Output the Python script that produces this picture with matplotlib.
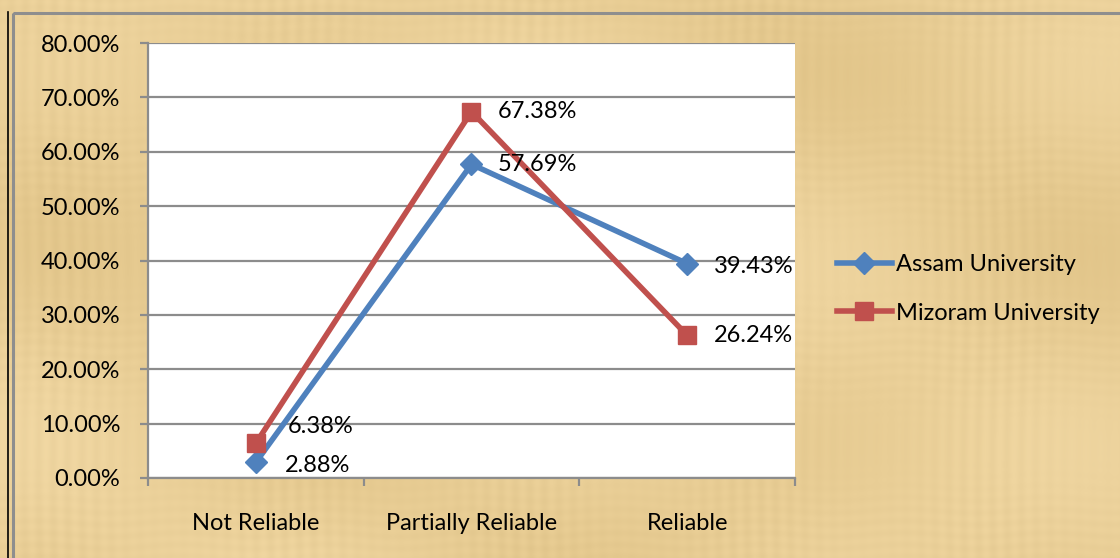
import numpy as np
import matplotlib
matplotlib.use("Agg")
import matplotlib.pyplot as plt
from matplotlib.ticker import FuncFormatter, MultipleLocator
from matplotlib.patches import Rectangle
from matplotlib.lines import Line2D

# Data
categories = ["Not Reliable", "Partially Reliable", "Reliable"]
assam = [0.0288, 0.5769, 0.3943]
mizoram = [0.0638, 0.6738, 0.2624]
series_names = ["Assam University", "Mizoram University"]

BLUE = "#4F81BD"
RED = "#C0504D"
GRID = "#8C8C8C"
FONT = "Lato"
FS = 17

W, H = 1120, 558
fig = plt.figure(figsize=(W / 100, H / 100), dpi=100)

# Papyrus-like backdrop built from layered sine streaks (mostly vertical fibres)
yy, xx = np.mgrid[0:H, 0:W]
fibres = (0.45 * np.sin(xx / 2.3 + 0.7 * np.sin(yy / 61.0)) * (0.6 + 0.4 * np.sin(xx / 37.0))
          + 0.25 * np.sin(yy / 1.9 + np.sin(xx / 23.0)) * (0.5 + 0.5 * np.sin(yy / 29.0 + 2.0)))
patches = 0.6 * np.sin(xx / 83.0 + 1.1) * np.sin(yy / 57.0 + 0.3) + 0.4 * np.sin(xx / 151.0 - yy / 97.0)
base = np.array([233, 206, 150]) / 255.0
tex = (base[None, None, :]
       + 0.022 * fibres[..., None]
       + 0.03 * patches[..., None] * np.array([0.8, 1.0, 1.4]))
tex = np.clip(tex, 0, 1)
bg = fig.add_axes([0, 0, 1, 1], zorder=-10)
bg.imshow(tex, extent=[0, W, H, 0], aspect="auto", interpolation="bilinear")
bg.set_xlim(0, W)
bg.set_ylim(H, 0)
bg.axis("off")
# chart border
bg.add_patch(Rectangle((13, 13), W + 10, H, fill=False, ec="#8E8E8E", lw=2.2))
bg.plot([8, 8], [12, H], color="black", lw=1.2)

# Plot area
left, right, top, bottom = 148, 795, 43, 478
ax = fig.add_axes([left / W, 1 - bottom / H, (right - left) / W, (bottom - top) / H])
ax.set_facecolor("white")
x = np.arange(len(categories))
ax.set_xlim(-0.5, len(categories) - 0.5)
ax.set_ylim(0, 0.8)

ax.yaxis.set_major_locator(MultipleLocator(0.1))
ax.yaxis.set_major_formatter(FuncFormatter(lambda v, p: f"{v * 100:.2f}%"))
ax.grid(axis="y", color=GRID, lw=1.6)
ax.set_axisbelow(True)
for s in ["top", "right"]:
    ax.spines[s].set_visible(False)
for s in ["left", "bottom"]:
    ax.spines[s].set_color(GRID)
    ax.spines[s].set_linewidth(1.6)

ax.set_xticks(x)
ax.set_xticklabels(categories, fontsize=FS, family=FONT)
ax.set_xticks(np.arange(-0.5, len(categories)), minor=True)
ax.tick_params(axis="x", which="major", length=0, pad=25)
ax.tick_params(axis="x", which="minor", length=6, width=1.6, color=GRID, direction="out")
ax.tick_params(axis="y", length=6, width=1.6, color=GRID, pad=14, labelsize=FS)
for lbl in ax.get_yticklabels():
    lbl.set_family(FONT)

ax.plot(x, assam, color=BLUE, lw=4, marker="D", ms=11, mec=BLUE, mfc=BLUE, zorder=3,
        label=series_names[0])
ax.plot(x, mizoram, color=RED, lw=4, marker="s", ms=13, mec=RED, mfc=RED, zorder=4,
        label=series_names[1])

# Value labels to the right of each point
label_offsets_mz = [(23, 12), (19, 0), (19, 0)]
label_offsets_as = [(21, -2), (19, 0), (19, -2)]
for xi, v, off in zip(x, assam, label_offsets_as):
    ax.annotate(f"{v * 100:.2f}%", (xi, v), xytext=off, textcoords="offset points",
                ha="left", va="center", fontsize=FS, family=FONT, zorder=5)
for xi, v, off in zip(x, mizoram, label_offsets_mz):
    ax.annotate(f"{v * 100:.2f}%", (xi, v), xytext=off, textcoords="offset points",
                ha="left", va="center", fontsize=FS, family=FONT, zorder=5)

handles = [
    Line2D([], [], color=BLUE, lw=4, marker="D", ms=11, mfc=BLUE, mec=BLUE),
    Line2D([], [], color=RED, lw=4, marker="s", ms=13, mfc=RED, mec=RED),
]
fig.legend(handles, series_names, loc="center left",
           bbox_to_anchor=(816 / W, 1 - 289 / H), frameon=False,
           prop={"family": FONT, "size": FS}, handlelength=2.3, handletextpad=0.2,
           labelspacing=1.15)

fig.savefig("out.png", dpi=100)
